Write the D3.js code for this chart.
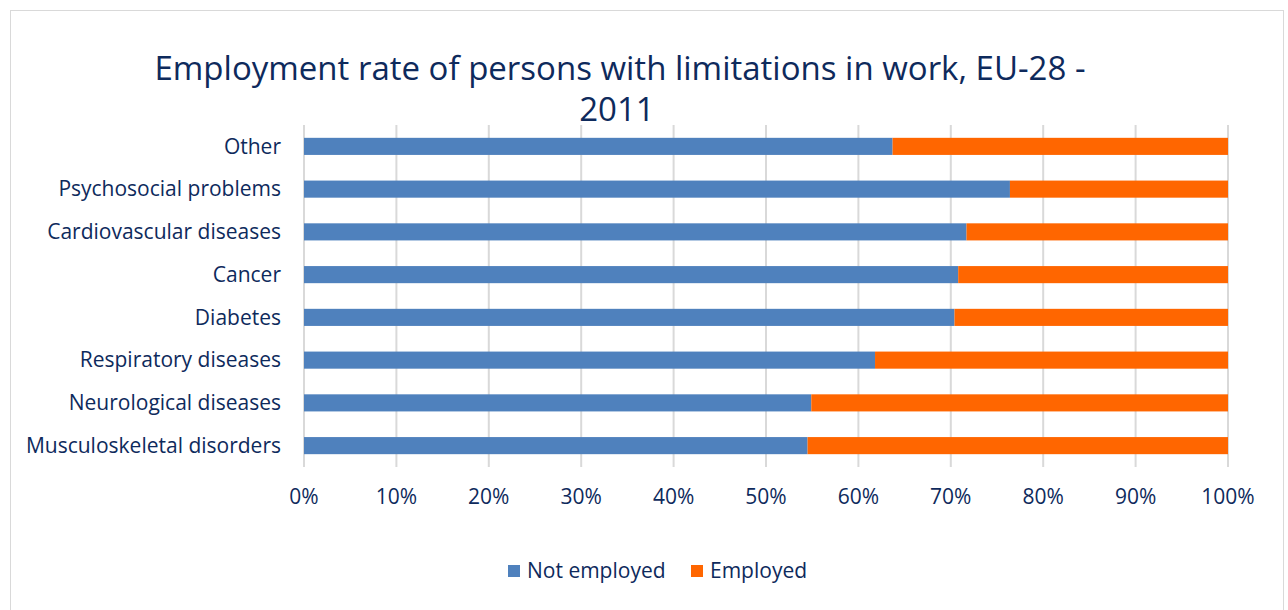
<html lang="en">
<head>
  <meta charset="UTF-8"/>
  <title>Employment rate of persons with limitations in work</title>
  <script src="https://d3js.org/d3.v7.min.js"></script>
  <style>
    body { margin: 0; background: #fff; }
    text { font-family: "Open Sans", sans-serif; fill: #0E2A5C; }
  </style>
</head>
<body>
<svg id="chart"></svg>
<script>
  // categories top to bottom
  const categories = ["Other", "Psychosocial problems", "Cardiovascular diseases", "Cancer",
    "Diabetes", "Respiratory diseases", "Neurological diseases", "Musculoskeletal disorders"];
  const notEmployed = [63.7, 76.4, 71.7, 70.8, 70.4, 61.8, 54.9, 54.5];
  const employed = [36.3, 23.6, 28.3, 29.2, 29.6, 38.2, 45.1, 45.5];
  const seriesNames = ["Not employed", "Employed"];
  const seriesColors = ["#4F81BD", "#FF6600"];
  const ticks = [0, 10, 20, 30, 40, 50, 60, 70, 80, 90, 100];

  const W = 1288, H = 610;
  const plotLeft = 304, plotRight = 1228, plotTop = 125, plotBottom = 467;

  const svg = d3.select("#chart").attr("width", W).attr("height", H);

  // chart frame
  svg.append("rect")
    .attr("x", 10.5).attr("y", 10.5)
    .attr("width", 1273).attr("height", 610)
    .attr("fill", "none").attr("stroke", "#D9D9D9").attr("stroke-width", 1);

  const x = d3.scaleLinear().domain([0, 100]).range([plotLeft, plotRight]);
  const y = d3.scaleBand().domain(categories).range([plotTop, plotBottom]).paddingInner(0.6).paddingOuter(0.3);

  // grid lines
  svg.append("g")
    .selectAll("line")
    .data(ticks)
    .join("line")
    .attr("x1", d => x(d)).attr("x2", d => x(d))
    .attr("y1", plotTop).attr("y2", plotBottom)
    .attr("stroke", "#D9D9D9").attr("stroke-width", 2);

  const rows = categories.map((c, i) => ({ cat: c, vals: [notEmployed[i], employed[i]] }));

  const stack = d3.stack().keys([0, 1]).value((d, k) => d.vals[k]);
  const layers = stack(rows);

  svg.append("g")
    .selectAll("g")
    .data(layers)
    .join("g")
    .attr("fill", (d, i) => seriesColors[i])
    .selectAll("rect")
    .data(d => d)
    .join("rect")
    .attr("x", d => x(d[0]))
    .attr("width", d => x(d[1]) - x(d[0]))
    .attr("y", d => y(d.data.cat))
    .attr("height", y.bandwidth());

  // category labels
  svg.append("g")
    .selectAll("text")
    .data(categories)
    .join("text")
    .attr("x", 281)
    .attr("y", d => y(d) + y.bandwidth() / 2)
    .attr("dy", "0.35em")
    .attr("text-anchor", "end")
    .style("font-size", "21px")
    .text(d => d);

  // x tick labels
  svg.append("g")
    .selectAll("text")
    .data(ticks)
    .join("text")
    .attr("x", d => x(d))
    .attr("y", 497)
    .attr("dy", "0.35em")
    .attr("text-anchor", "middle")
    .style("font-size", "21px")
    .text(d => d + "%");

  // title
  const title = svg.append("text")
    .attr("text-anchor", "middle")
    .style("font-size", "33px");
  title.append("tspan").attr("x", 620).attr("y", 80).text("Employment rate of persons with limitations in work, EU-28 -");
  title.append("tspan").attr("x", 617).attr("y", 121).text("2011");

  // legend
  const legendX = [508, 691];
  const legend = svg.append("g")
    .selectAll("g")
    .data(seriesNames)
    .join("g")
    .attr("transform", (d, i) => `translate(${legendX[i]}, 571)`);
  legend.append("rect")
    .attr("x", 0).attr("y", -6).attr("width", 12).attr("height", 12)
    .attr("fill", (d, i) => seriesColors[i]);
  legend.append("text")
    .attr("x", 19).attr("dy", "0.35em")
    .style("font-size", "21px")
    .text(d => d);
</script>
</body>
</html>
